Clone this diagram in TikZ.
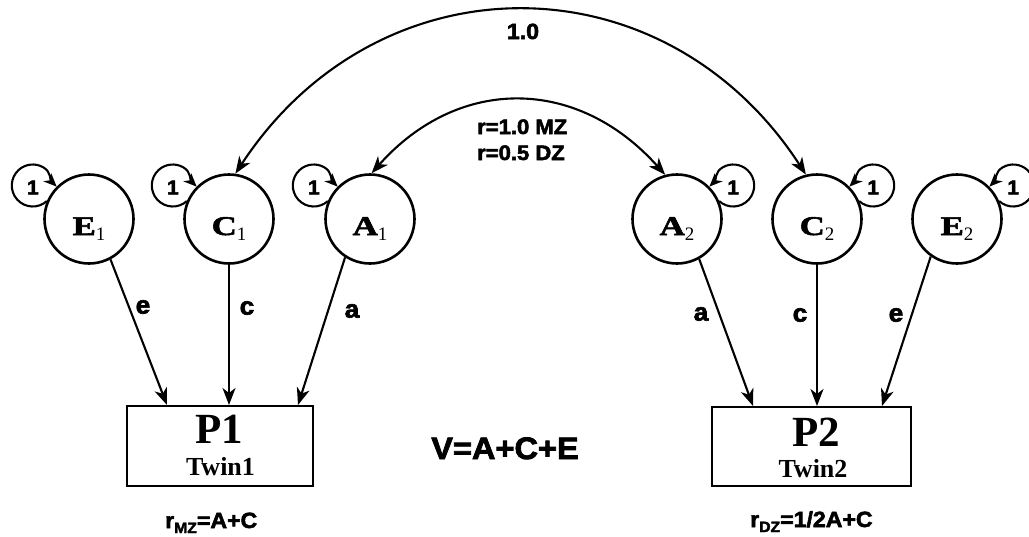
\documentclass[tikz,border=0pt]{standalone}
\usepackage{fontspec}
\setmainfont{Liberation Serif}
\newfontfamily\hv[FakeStretch=1.05,FakeBold=2.5]{Liberation Sans}
\newfontfamily\wideserif[FakeStretch=1.3,FakeBold=2]{Liberation Serif}
\usetikzlibrary{arrows.meta,calc}
\newcommand\latlabel[2]{{\wideserif\bfseries\fontsize{27}{27}\selectfont #1}\raisebox{-5pt}{\normalfont\fontsize{19}{19}\selectfont #2}}
\begin{document}
\begin{tikzpicture}[x=1pt,y=1pt,
  latent/.style={circle,draw,line width=2.6pt,minimum size=89pt,inner sep=0pt},
  obs/.style={rectangle,draw,line width=2.7pt,inner sep=0pt},
  arr/.style={line width=2.1pt,-{Stealth[length=17pt,width=13pt,inset=5pt]}},
  darr/.style={line width=2.1pt,{Stealth[length=17pt,width=13pt,inset=5pt]}-{Stealth[length=17pt,width=13pt,inset=5pt]}},
  looparr/.style={line width=2.1pt,-{Stealth[length=13pt,width=11pt,inset=4pt]}},
  sans/.style={font=\hv\bfseries\fontsize{#1}{#1}\selectfont,inner sep=0pt},
  ltext/.style={inner sep=0pt,anchor=base},
  ptext/.style={font=\bfseries\fontsize{43}{43}\selectfont,inner sep=0pt,anchor=base},
  ttext/.style={font=\bfseries\fontsize{26}{26}\selectfont,inner sep=0pt,anchor=base}
]
\useasboundingbox (0,-536) rectangle (1029,0);

% latent variables
\node[latent] (E1) at (89,-219) {};
\node[latent] (C1) at (229,-219) {};
\node[latent] (A1) at (370,-219) {};
\node[latent] (A2) at (677,-219) {};
\node[latent] (C2) at (817,-219) {};
\node[latent] (E2) at (957,-219) {};

\node[ltext] (E1t) at (89,-235) {\latlabel{E}{1}};
\node[ltext] (C1t) at (229,-235) {\latlabel{C}{1}};
\node[ltext] (A1t) at (370,-235) {\latlabel{A}{1}};
\node[ltext] (A2t) at (677,-235) {\latlabel{A}{2}};
\node[ltext] (C2t) at (817,-235) {\latlabel{C}{2}};
\node[ltext] (E2t) at (957,-235) {\latlabel{E}{2}};

% self loops
\foreach \n in {E1,C1,A1}{
  \draw[looparr] (\n.157) arc[start angle=-48,end angle=-300,radius=21]
     to[out=-30,in=135] (\n.135);
  \node[sans=20] (one\n) at ($(\n.157)+(-14,13.6)$) {1};
}
\foreach \n in {A2,C2,E2}{
  \draw[looparr] (\n.23) arc[start angle=228,end angle=480,radius=21]
     to[out=210,in=45] (\n.45);
  \node[sans=20] (one\n) at ($(\n.23)+(14,13.6)$) {1};
}

% observed variables
\node[obs,minimum width=186pt,minimum height=80pt] (P1) at (220,-446) {};
\node[obs,minimum width=199pt,minimum height=79pt] (P2) at (811.5,-446.5) {};
\node[ptext] (P1t) at (219.5,-443) {P1};
\node[ttext] (P1s) at (220.5,-475) {Twin1};
\node[ptext] (P2t) at (816,-446) {P2};
\node[ttext] (P2s) at (813,-477) {Twin2};

% arrow targets
\coordinate (tE1) at (167,-405);
\coordinate (tC1) at (229,-405);
\coordinate (tA1) at (298,-405);
\coordinate (tA2) at (753,-406);
\coordinate (tC2) at (817,-406);
\coordinate (tE2) at (882,-406);

\draw[arr] (E1.-62) -- (tE1);
\draw[arr] (C1.south) -- (tC1);
\draw[arr] (A1.-123) -- (tA1);
\draw[arr] (A2.-61) -- (tA2);
\draw[arr] (C2.south) -- (tC2);
\draw[arr] (E2.-125) -- (tE2);

\node[sans=25] (le1) at (143,-307) {e};
\node[sans=25] (lc1) at (247,-308) {c};
\node[sans=25] (la1) at (352,-311) {a};
\node[sans=25] (la2) at (701,-314) {a};
\node[sans=25] (lc2) at (800,-315) {c};
\node[sans=25] (le2) at (896,-315) {e};

% correlations
\draw[darr] (C1.82) .. controls (378,44) and (664,44) .. (C2.104);
\draw[darr] (A1.88) .. controls (458,-76) and (577,-76) .. (A2.105);
\node[sans=22,anchor=base] (one) at (523,-39) {1.0};
\node[sans=21,anchor=base west] (rmz) at (477,-134) {r=1.0 MZ};
\node[sans=21,anchor=base west] (rdz) at (477,-160) {r=0.5 DZ};

% formulas
\node[sans=31,anchor=base] (V) at (505,-459) {V=A+C+E};
\node[sans=22,anchor=base west] (fmz) at (165,-528) {r\raisebox{-5pt}{\fontsize{15}{15}\selectfont MZ}=A+C};
\node[sans=22,anchor=base west] (fdz) at (750,-527) {r\raisebox{-5pt}{\fontsize{15}{15}\selectfont DZ}=1/2A+C};
\end{tikzpicture}
\end{document}
